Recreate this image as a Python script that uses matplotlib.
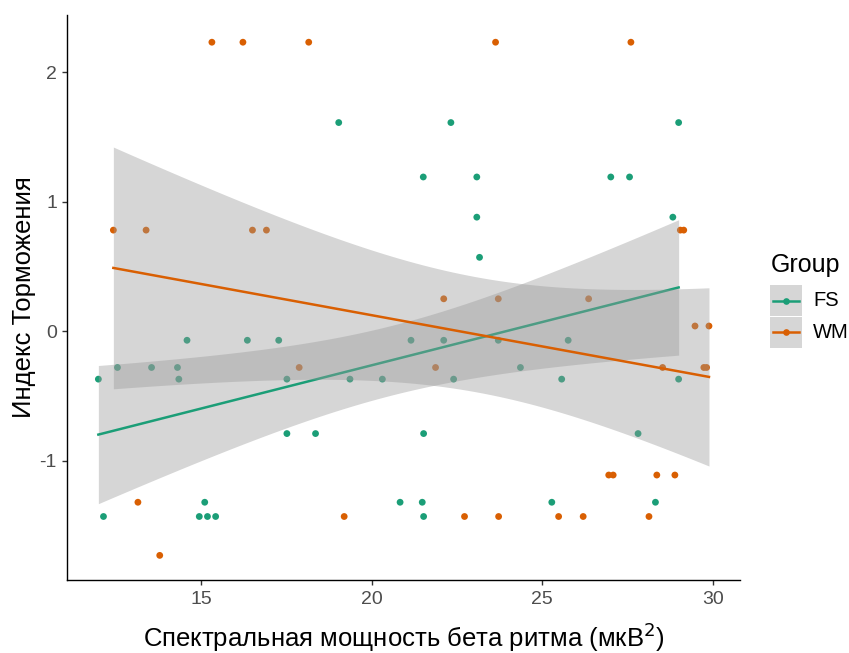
import numpy as np
import matplotlib
matplotlib.use("Agg")
import matplotlib.pyplot as plt
from matplotlib.patches import Rectangle
from matplotlib.lines import Line2D

plt.rcParams['font.family'] = ['Liberation Sans', 'DejaVu Sans']
plt.rcParams['axes.unicode_minus'] = False

# FS group: spectral power vs inhibition index
fs_x = [19.03, 22.32, 29.0,
        21.51, 23.08, 27.01, 27.56,
        23.08, 28.83,
        23.16,
        14.58, 16.35, 17.27, 21.15, 22.11, 23.71, 25.76,
        12.54, 13.54, 14.30, 24.36,
        11.98, 14.34, 17.51, 19.36, 20.31, 22.40, 25.57, 29.0,
        17.51, 18.35, 21.52, 27.81,
        15.10, 20.83, 21.48, 25.28, 28.32,
        12.13, 14.94, 15.18, 15.42, 21.52]
fs_y = [1.61, 1.61, 1.61,
        1.19, 1.19, 1.19, 1.19,
        0.88, 0.88,
        0.57,
        -0.07, -0.07, -0.07, -0.07, -0.07, -0.07, -0.07,
        -0.28, -0.28, -0.28, -0.28,
        -0.37, -0.37, -0.37, -0.37, -0.37, -0.37, -0.37, -0.37,
        -0.79, -0.79, -0.79, -0.79,
        -1.32, -1.32, -1.32, -1.32, -1.32,
        -1.43, -1.43, -1.43, -1.43, -1.43]

# WM group
wm_x = [15.31, 16.22, 18.15, 23.63, 27.60,
        12.42, 13.38, 16.50, 16.91, 29.05, 29.15,
        22.11, 23.71, 26.36,
        29.48, 29.89,
        17.87, 21.87, 28.53, 29.74, 29.82,
        26.95, 27.08, 28.36, 28.89,
        13.14,
        19.19, 22.72, 23.72, 25.48, 26.20, 28.13,
        13.78]
wm_y = [2.23, 2.23, 2.23, 2.23, 2.23,
        0.78, 0.78, 0.78, 0.78, 0.78, 0.78,
        0.25, 0.25, 0.25,
        0.04, 0.04,
        -0.28, -0.28, -0.28, -0.28, -0.28,
        -1.11, -1.11, -1.11, -1.11,
        -1.32,
        -1.43, -1.43, -1.43, -1.43, -1.43, -1.43,
        -1.73]

groups = ['FS', 'WM']
colors = {'FS': '#1B9E77', 'WM': '#D95F02'}
data = {'FS': (fs_x, fs_y), 'WM': (wm_x, wm_y)}


def t_quantile(p, df):
    # Cornish-Fisher expansion of the t quantile
    z = 1.959964 if p == 0.975 else 1.644854
    return (z + (z**3 + z) / (4 * df) + (5 * z**5 + 16 * z**3 + 3 * z) / (96 * df**2)
            + (3 * z**7 + 19 * z**5 + 17 * z**3 - 15 * z) / (384 * df**3))


def lm_fit(x, y, n_out=80):
    x = np.asarray(x)
    y = np.asarray(y)
    n = len(x)
    b, a = np.polyfit(x, y, 1)
    resid = y - (a + b * x)
    s = np.sqrt(np.sum(resid**2) / (n - 2))
    xs = np.linspace(x.min(), x.max(), n_out)
    fit = a + b * xs
    se = s * np.sqrt(1 / n + (xs - x.mean())**2 / np.sum((x - x.mean())**2))
    t = t_quantile(0.975, n - 2)
    return xs, fit, fit - t * se, fit + t * se


fig = plt.figure(figsize=(8.49, 6.53), dpi=100)
ax = fig.add_axes([67 / 849, 1 - 580 / 653, (740 - 67) / 849, (580 - 15) / 653])

for g in groups:
    x, y = data[g]
    ax.scatter(x, y, s=24, color=colors[g], edgecolors='none', zorder=2)

z = 3
for g in groups:
    xs, fit, lo, hi = lm_fit(*data[g])
    ax.fill_between(xs, lo, hi, color='#999999', alpha=0.4, linewidth=0, zorder=z)
    ax.plot(xs, fit, color=colors[g], linewidth=1.8, zorder=z + 1)
    z += 2

ax.set_xlim(11.06, 30.8)
ax.set_ylim(-1.92, 2.44)
ax.set_xticks([15, 20, 25, 30])
ax.set_yticks([-1, 0, 1, 2])
ax.tick_params(axis='both', colors='#333333', labelcolor='#4D4D4D', labelsize=14,
               length=3.7, width=1)
ax.tick_params(axis='x', pad=4)
ax.tick_params(axis='y', pad=3.5)
for side in ['top', 'right']:
    ax.spines[side].set_visible(False)
for side in ['left', 'bottom']:
    ax.spines[side].set_linewidth(1)
    ax.spines[side].set_color('black')

ax.set_xlabel('Спектральная мощность бета ритма (мкВ$^2$)', fontsize=18.5, va='center')
ax.set_ylabel('Индекс Торможения', fontsize=18.5, va='center')
ax.xaxis.set_label_coords(0.5, (580 - 637) / 565)
ax.yaxis.set_label_coords((24 - 67) / 673, 0.5)

# legend drawn by hand, ggplot style
W, H = 849, 653
fig.text(771 / W, 1 - 265 / H, 'Group', fontsize=18, va='center', ha='left')
key_top = 285
key_h = 31.5
for i, g in enumerate(groups):
    y0 = key_top + i * key_h
    fig.add_artist(Rectangle((770 / W, 1 - (y0 + key_h) / H), 32 / W, key_h / H,
                             transform=fig.transFigure, facecolor='#999999', alpha=0.4,
                             edgecolor='none'))
    yc = 1 - (y0 + key_h / 2) / H
    fig.add_artist(Line2D([773 / W, 799 / W], [yc, yc], transform=fig.transFigure,
                          color=colors[g], linewidth=1.8))
    fig.add_artist(Line2D([786 / W], [yc], transform=fig.transFigure, marker='o',
                          markersize=4.8, color=colors[g], markeredgewidth=0))
    fig.text(813 / W, yc, g, fontsize=14.5, va='center', ha='left')

fig.savefig('out.png', dpi=100)
